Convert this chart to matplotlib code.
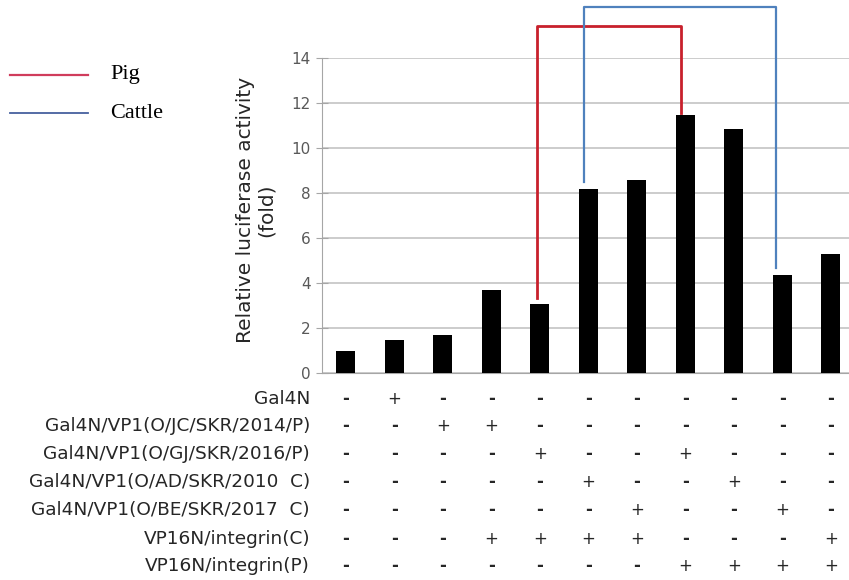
import matplotlib
matplotlib.use("Agg")
import matplotlib.pyplot as plt
from matplotlib import transforms

# bar heights (relative luciferase activity, fold)
fold = [1.0, 1.48, 1.70, 3.69, 3.09, 8.18, 8.58, 11.46, 10.84, 4.37, 5.30]

row_labels = [
    "Gal4N",
    "Gal4N/VP1(O/JC/SKR/2014/P)",
    "Gal4N/VP1(O/GJ/SKR/2016/P)",
    "Gal4N/VP1(O/AD/SKR/2010  C)",
    "Gal4N/VP1(O/BE/SKR/2017  C)",
    "VP16N/integrin(C)",
    "VP16N/integrin(P)",
]
signs = [
    "-+---------",
    "--++-------",
    "----+--+---",
    "-----+--+--",
    "------+--+-",
    "---++++---+",
    "-------++++",
]

# comparison brackets: x of both legs, bottom of left leg, top, bottom of right leg
pig_x = [3.93, 6.90]
pig_y = [3.33, 15.44, 11.56]
cattle_x = [4.91, 8.86]
cattle_y = [8.52, 16.30, 4.67]

W, H = 849, 580
fig = plt.figure(figsize=(W / 100, H / 100), dpi=100)
ax = fig.add_axes([321.7 / W, 1 - 373.3 / H, 533.5 / W, (373.3 - 58.3) / H])

x = list(range(len(fold)))
ax.bar(x, fold, width=0.39, color="black", zorder=3)
ax.set_xlim(-0.5, len(fold) - 0.5)
ax.set_ylim(0, 14)
ax.set_yticks(range(0, 15, 2))
ax.set_xticks([])
ax.yaxis.grid(True, color="#c4c4c4", lw=1.2)
ax.set_axisbelow(True)
for s in ["top", "right"]:
    ax.spines[s].set_visible(False)
ax.spines["left"].set_color("#a6a6a6")
ax.spines["bottom"].set_color("#a6a6a6")
ax.tick_params(axis="y", direction="inout", length=8, color="#a6a6a6",
               labelsize=11, labelcolor="#595959", pad=4)

# brackets
ax.plot([pig_x[0], pig_x[0], pig_x[1], pig_x[1]],
        [pig_y[0], pig_y[1], pig_y[1], pig_y[2]],
        color="#c8202c", lw=2.0, clip_on=False, zorder=4)
ax.plot([cattle_x[0], cattle_x[0], cattle_x[1], cattle_x[1]],
        [cattle_y[0], cattle_y[1], cattle_y[1], cattle_y[2]],
        color="#4f81bd", lw=1.6, clip_on=False, zorder=4)

fig.text(256 / W, 1 - 210 / H, "Relative luciferase activity\n(fold)",
         rotation=90, ha="center", va="center", multialignment="center",
         fontsize=14.5, color="#262626", linespacing=1.1)

# legend drawn by hand
fig.add_artist(plt.Line2D([10 / W, 88 / W], [1 - 75 / H] * 2, color="#d03c5c", lw=1.6))
fig.add_artist(plt.Line2D([10 / W, 88 / W], [1 - 113 / H] * 2, color="#46609e", lw=1.3))
fig.text(110 / W, 1 - 75 / H, "Pig", fontsize=16, family="Liberation Serif",
         va="center", ha="left")
fig.text(110 / W, 1 - 113 / H, "Cattle", fontsize=16, family="Liberation Serif",
         va="center", ha="left")

# condition table under the bars
trans = transforms.blended_transform_factory(ax.transData, fig.transFigure)
row_y = [398.8, 426, 454, 482, 510, 539, 566]
for lab, sg, yy in zip(row_labels, signs, row_y):
    fy = 1 - yy / H
    fig.text(310 / W, fy, lab, ha="right", va="center", fontsize=13.3, color="#262626")
    for i, c in enumerate(sg):
        ax.text(i, fy, c, transform=trans, ha="center", va="center",
                fontsize=12, color="#262626",
                fontweight="bold" if c == "-" else "normal", clip_on=False)

fig.savefig("out.png", dpi=100)
